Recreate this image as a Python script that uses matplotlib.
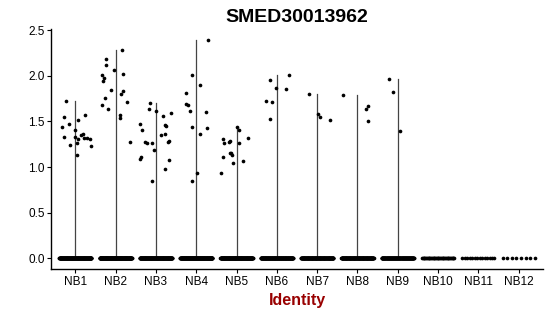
import numpy as np
import matplotlib
matplotlib.use("Agg")
import matplotlib.pyplot as plt

plt.rcParams['font.family'] = ['Liberation Sans', 'DejaVu Sans']

title = "SMED30013962"
groups = ["NB1", "NB2", "NB3", "NB4", "NB5", "NB6", "NB7", "NB8", "NB9", "NB10", "NB11", "NB12"]

# non-zero expression values per cluster
nb1 = [1.728, 1.546, 1.443, 1.476, 1.520, 1.571, 1.407, 1.333, 1.242, 1.327,
       1.311, 1.261, 1.349, 1.366, 1.322, 1.316, 1.305, 1.231, 1.129]
nb2 = [2.287, 2.189, 2.123, 2.068, 2.021, 2.010, 1.974, 1.947, 1.845, 1.831,
       1.801, 1.758, 1.714, 1.678, 1.640, 1.575, 1.535, 1.272]
nb3 = [1.700, 1.637, 1.612, 1.564, 1.593, 1.473, 1.462, 1.451, 1.407, 1.363, 1.352,
       1.272, 1.261, 1.264, 1.286, 1.279, 1.184, 1.111, 1.086, 1.075, 0.976, 0.844]
nb4 = [2.397, 2.007, 1.900, 1.809, 1.689, 1.681, 1.615, 1.607, 1.440, 1.432,
       1.366, 0.939, 0.848]
nb5 = [1.440, 1.404, 1.316, 1.305, 1.268, 1.279, 1.286, 1.264, 1.151, 1.158,
       1.129, 1.114, 1.042, 1.070, 0.932]
nb6 = [2.013, 1.958, 1.871, 1.860, 1.725, 1.714, 1.531]
nb7 = [1.798, 1.577, 1.544, 1.520]
nb8 = [1.787, 1.675, 1.635, 1.508]
nb9 = [1.971, 1.826, 1.393]
nonzero = [nb1, nb2, nb3, nb4, nb5, nb6, nb7, nb8, nb9, [], [], []]

# number of cells with zero expression per cluster (rough estimate)
zero_counts = [200, 220, 200, 210, 200, 180, 170, 170, 160, 40, 14, 8]

# horizontal jitter of the non-zero points, as seen in the picture
jit1 = [-0.22, -0.27, -0.32, -0.16, 0.06, 0.25, -0.01, -0.27, -0.14, -0.01,
        0.06, 0.05, 0.15, 0.19, 0.21, 0.28, 0.37, 0.38, 0.03]
jit2 = [0.16, -0.23, -0.25, -0.05, 0.19, -0.34, -0.30, -0.31, -0.12, 0.18,
        0.13, -0.27, 0.27, -0.34, -0.18, 0.11, 0.11, 0.36]
jit3 = [-0.14, -0.17, 0.01, 0.18, 0.37, -0.40, 0.22, 0.24, -0.35, 0.22, 0.13,
        -0.28, -0.22, -0.11, 0.32, 0.29, -0.06, -0.37, -0.40, 0.32, 0.22, -0.11]
jit4 = [0.28, -0.10, 0.10, -0.26, -0.26, -0.21, -0.16, 0.23, -0.11, 0.27, 0.09, 0.02, -0.10]
jit5 = [0.01, 0.06, 0.28, -0.34, -0.30, -0.18, -0.16, 0.05, -0.17, -0.14,
        -0.12, -0.34, -0.09, 0.17, -0.39]
jit6 = [0.31, -0.16, -0.02, 0.22, -0.28, -0.12, -0.17]
jit7 = [-0.21, 0.01, 0.06, 0.33]
jit8 = [-0.37, 0.27, 0.20, 0.27]
jit9 = [-0.22, -0.12, 0.06]
jitters = [jit1, jit2, jit3, jit4, jit5, jit6, jit7, jit8, jit9, [], [], []]

fig = plt.figure(figsize=(5.5, 3.16), dpi=100)
ax = fig.add_axes([0.093, 0.148, 0.894, 0.761])

ymax = max(max(v) for v in nonzero if v)

for i, name in enumerate(groups):
    pos = i + 1
    vals = nonzero[i]
    # violin collapses to a thin line from 0 to max
    if vals:
        ax.plot([pos, pos], [0, max(vals)], color='#444444', lw=0.9, zorder=1)
    zx = pos + np.linspace(-0.4, 0.4, zero_counts[i])
    ax.scatter(zx, np.zeros(len(zx)), s=7, color='black', linewidths=0, zorder=2)
    if vals:
        ax.scatter(pos + np.array(jitters[i]), vals, s=7, color='black',
                   linewidths=0, zorder=3)

ax.set_xlim(0.4, len(groups) + 0.6)
ax.set_ylim(-0.05 * ymax, 1.05 * ymax)
ax.set_xticks(range(1, len(groups) + 1))
ax.set_xticklabels(groups)
ax.set_yticks([0, 0.5, 1.0, 1.5, 2.0, 2.5])
ax.set_yticklabels(["0.0", "0.5", "1.0", "1.5", "2.0", "2.5"])
ax.tick_params(labelsize=8.5, length=2.7, width=0.8, pad=2, colors='black')

for s in ['top', 'right']:
    ax.spines[s].set_visible(False)
for s in ['left', 'bottom']:
    ax.spines[s].set_linewidth(1.0)

ax.set_title(title, fontsize=14, fontweight='bold', pad=5)
ax.set_xlabel("Identity", fontsize=11.5, fontweight='bold', color='#990000', labelpad=4)

fig.savefig("out.png", dpi=100)
